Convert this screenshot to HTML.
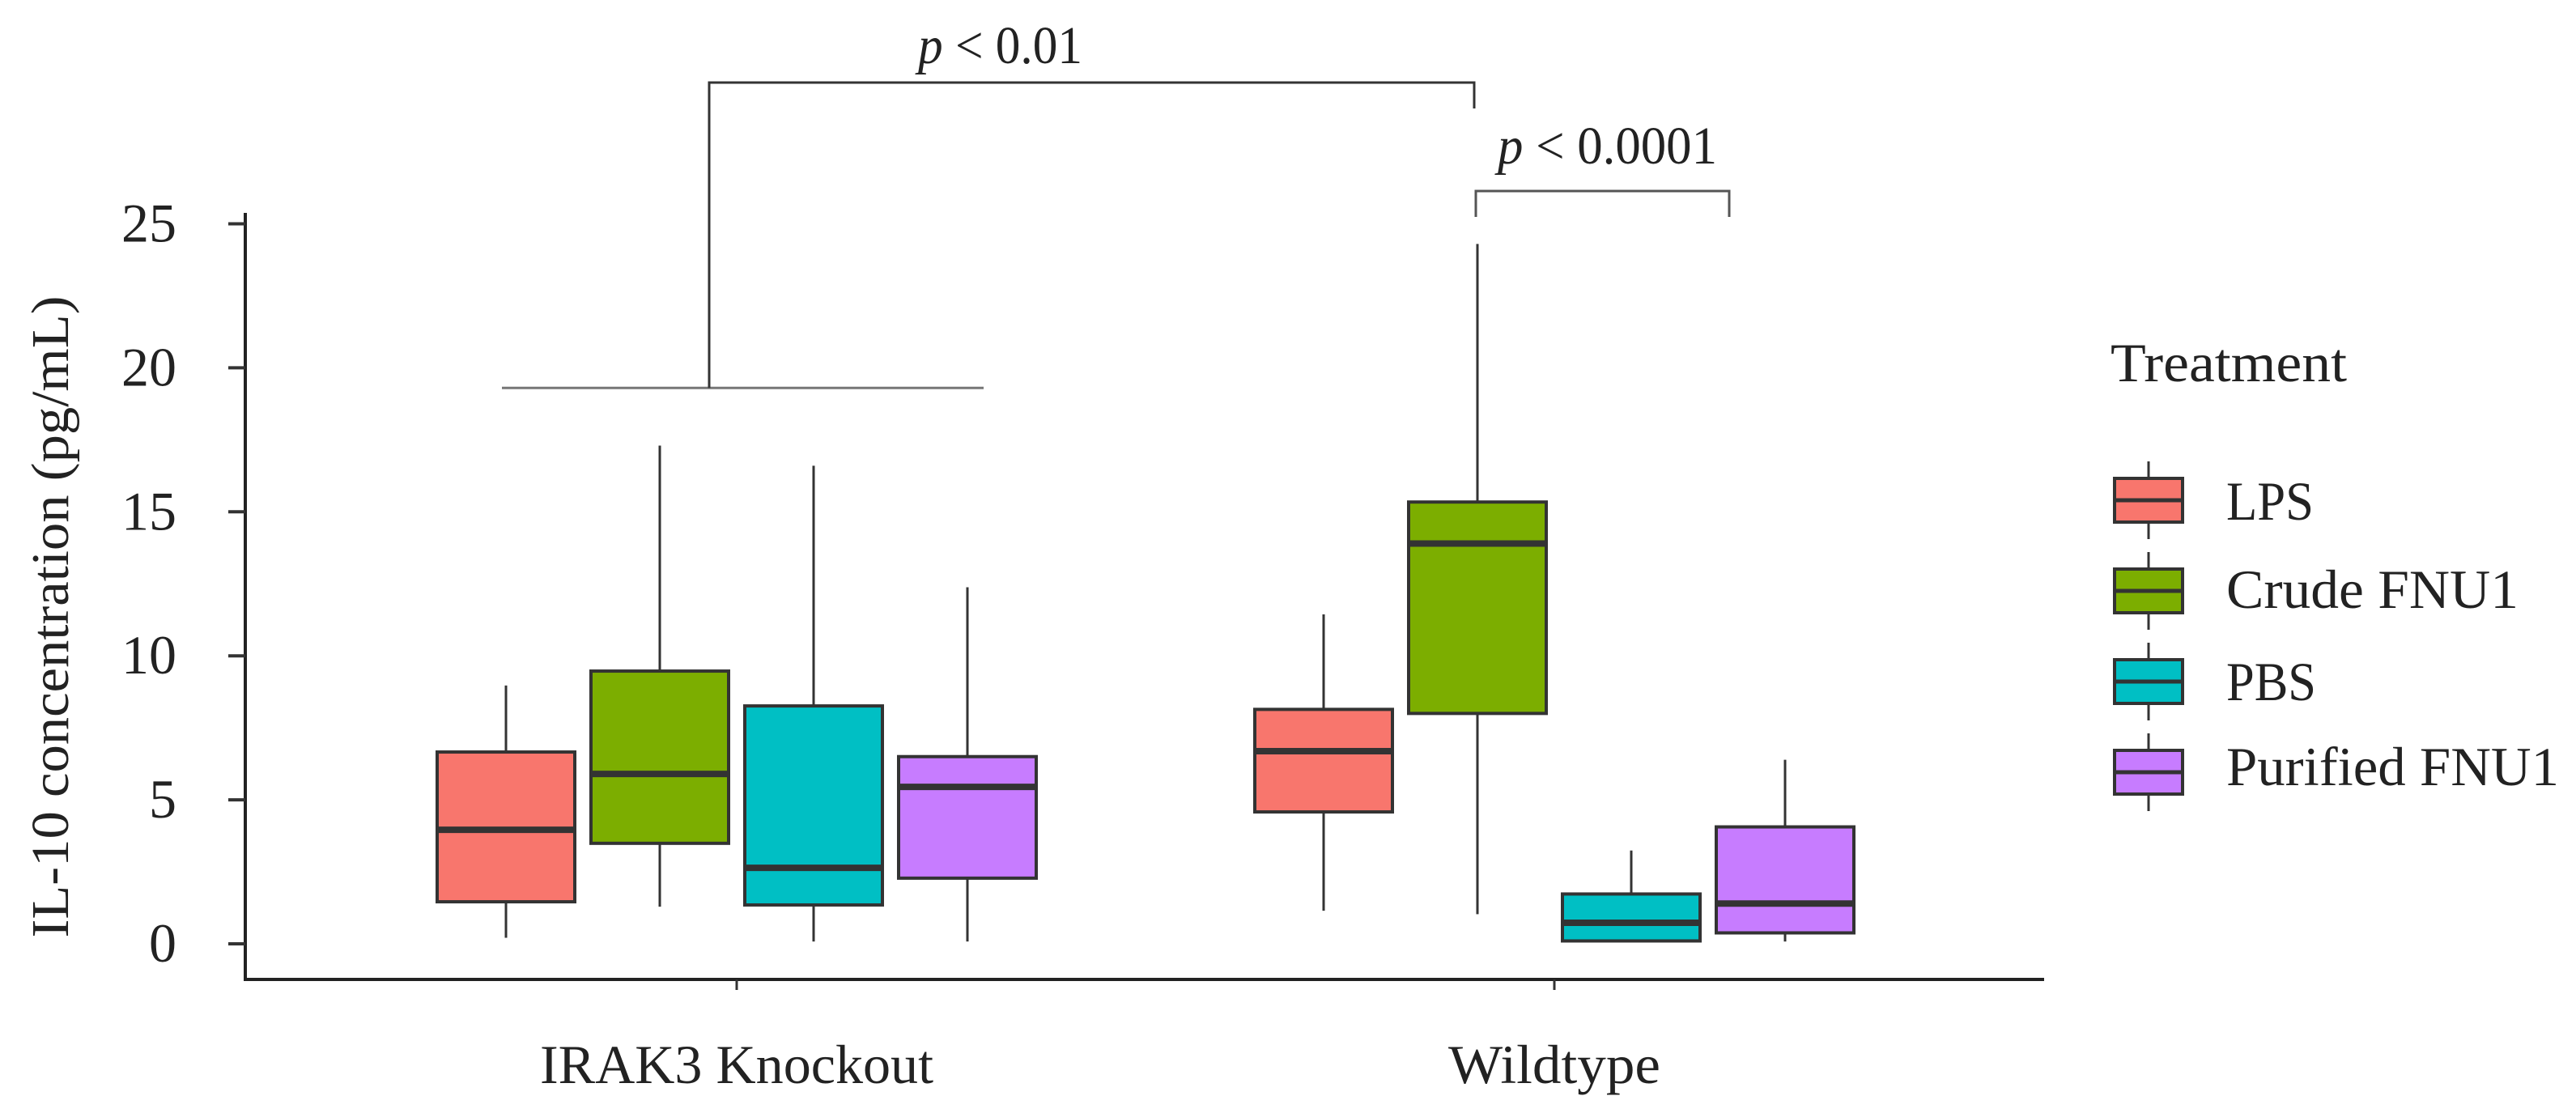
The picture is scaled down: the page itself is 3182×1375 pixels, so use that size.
<!DOCTYPE html>
<html><head><meta charset="utf-8"><style>
html,body{margin:0;padding:0;background:#fff;}
svg{display:block;font-family:"Liberation Serif",serif;}
</style></head><body>
<svg id="chart" width="3182" height="1375" viewBox="0 0 3182 1375" xmlns="http://www.w3.org/2000/svg">
<g id="axes"></g>
<g id="boxes"></g>
<g id="annot"></g>
<g id="legend"></g>
</svg>
<script>
const groups = ["IRAK3 Knockout", "Wildtype"];
const treatments = ["LPS", "Crude FNU1", "PBS", "Purified FNU1"];
const colors = ["#F8766D", "#7CAE00", "#00BFC4", "#C77CFF"];
const yTicks = [0, 5, 10, 15, 20, 25];
// [group][treatment]
const whiskerLow  = [[0.21, 1.29, 0.08, 0.08], [1.15, 1.03, 0.08, 0.08]];
const q1          = [[1.46, 3.49, 1.35, 2.28], [4.58, 8.0, 0.1, 0.38]];
const median      = [[3.96, 5.9, 2.64, 5.45], [6.69, 13.9, 0.73, 1.4]];
const q3          = [[6.66, 9.47, 8.26, 6.5], [8.14, 15.34, 1.73, 4.06]];
const whiskerHigh = [[8.97, 17.3, 16.6, 12.38], [11.44, 24.3, 3.24, 6.39]];
const bracketLevel = 19.3;

const NS = "http://www.w3.org/2000/svg";
const y0 = 1166, pxPerUnit = 35.58;
const y = v => y0 - v * pxPerUnit;
const groupCenter = [910, 1920];
const step = 190, boxW = 170;
const xPos = (g, t) => groupCenter[g] + (t - 1.5) * step;
const groupLabelWidth = [486, 262];
const legendLabelWidth = [108, 361, 111, 411];
const legendBaseline = [642, 751, 865, 970];

function mk(parent, tag, attrs, text) {
  const e = document.createElementNS(NS, tag);
  for (const k in attrs) e.setAttribute(k, attrs[k]);
  if (text !== undefined) e.textContent = text;
  parent.appendChild(e);
  return e;
}
const axes = document.getElementById('axes');
const boxes = document.getElementById('boxes');
const annot = document.getElementById('annot');
const legend = document.getElementById('legend');

let e = mk(axes, 'line', {x1:303, y1:263, x2:303, y2:1212, stroke:'#222', 'stroke-width':4});


e = mk(axes, 'line', {x1:301, y1:1210, x2:2525, y2:1210, stroke:'#222', 'stroke-width':4});


yTicks.forEach(v => {
  let t = mk(axes, 'line', {x1:282, y1:y(v), x2:303, y2:y(v), stroke:'#333', 'stroke-width':4});
  
  
  let l = mk(axes, 'text', {x:218, y:y(v)+22, 'text-anchor':'end', 'font-size':68, fill:'#222'}, String(v));
  
  
});
groups.forEach((gname, g) => {
  let t = mk(axes, 'line', {x1:groupCenter[g], y1:1210, x2:groupCenter[g], y2:1223, stroke:'#333', 'stroke-width':3});
  
  
  let l = mk(axes, 'text', {x:groupCenter[g] - groupLabelWidth[g]/2, y:1338, 'font-size':68, fill:'#222', textLength:groupLabelWidth[g], lengthAdjust:'spacingAndGlyphs'}, gname);
  
  
});
e = mk(axes, 'text', {x:0, y:0, transform:'translate(84,762) rotate(-90)', 'text-anchor':'middle', 'font-size':66, fill:'#222', textLength:793, lengthAdjust:'spacingAndGlyphs'}, 'IL-10 concentration (pg/mL)');



groups.forEach((gname, g) => {
  treatments.forEach((tname, t) => {
    const cx = xPos(g, t);
    const grp = mk(boxes, 'g', {});
    
    
    mk(grp, 'line', {x1:cx, y1:y(whiskerHigh[g][t]), x2:cx, y2:y(q3[g][t]), stroke:'#333', 'stroke-width':3});
    mk(grp, 'line', {x1:cx, y1:y(q1[g][t]), x2:cx, y2:y(whiskerLow[g][t]), stroke:'#333', 'stroke-width':3});
    mk(grp, 'rect', {x:cx-boxW/2, y:y(q3[g][t]), width:boxW, height:y(q1[g][t])-y(q3[g][t]), fill:colors[t], stroke:'#333', 'stroke-width':4});
    mk(grp, 'line', {x1:cx-boxW/2, y1:y(median[g][t]), x2:cx+boxW/2, y2:y(median[g][t]), stroke:'#333', 'stroke-width':8});
  });
});

const by = y(bracketLevel);
e = mk(annot, 'line', {x1:620, y1:by, x2:1215, y2:by, stroke:'#777', 'stroke-width':3});


e = mk(annot, 'polyline', {points:`876,${by} 876,102 1821,102 1821,134`, fill:'none', stroke:'#333', 'stroke-width':3});


e = mk(annot, 'polyline', {points:'1823,268 1823,236 2136,236 2136,268', fill:'none', stroke:'#555', 'stroke-width':3});


e = mk(annot, 'text', {x:1134, y:78, 'font-size':66, fill:'#222', textLength:203, lengthAdjust:'spacingAndGlyphs'});


e.innerHTML = '<tspan font-style="italic">p</tspan> &lt; 0.01';
e = mk(annot, 'text', {x:1850, y:202, 'font-size':66, fill:'#222', textLength:271, lengthAdjust:'spacingAndGlyphs'});


e.innerHTML = '<tspan font-style="italic">p</tspan> &lt; 0.0001';

e = mk(legend, 'text', {x:2607, y:471, 'font-size':68, fill:'#222', textLength:292, lengthAdjust:'spacingAndGlyphs'}, 'Treatment');


treatments.forEach((tname, t) => {
  const cy = 618 + t * 112;
  const lg = mk(legend, 'g', {});
  
  
  mk(lg, 'line', {x1:2654, y1:cy-48, x2:2654, y2:cy+48, stroke:'#333', 'stroke-width':3});
  mk(lg, 'rect', {x:2612, y:cy-27, width:84, height:54, fill:colors[t], stroke:'#333', 'stroke-width':4});
  mk(lg, 'line', {x1:2612, y1:cy, x2:2696, y2:cy, stroke:'#333', 'stroke-width':5});
  mk(lg, 'text', {x:2750, y:legendBaseline[t], 'font-size':68, fill:'#222', textLength:legendLabelWidth[t], lengthAdjust:'spacingAndGlyphs'}, tname);
});
</script>
</body></html>
